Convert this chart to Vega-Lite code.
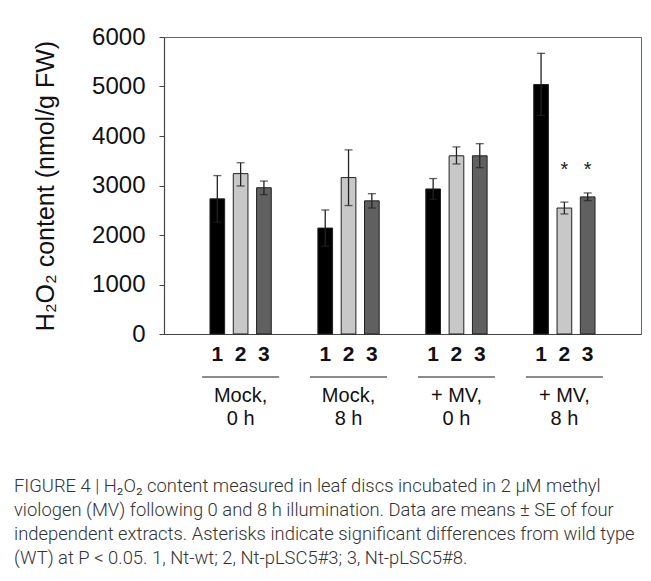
{
  "$schema": "https://vega.github.io/schema/vega-lite/v6.json",
  "width": 477,
  "height": 297,
  "autosize": {"type": "none"},
  "padding": {"left": 164, "top": 37, "right": 10, "bottom": 247},
  "background": "white",
  "config": {
    "font": "Liberation Sans",
    "view": {"stroke": "#666", "strokeWidth": 1}
  },
  "title": {
    "text": [
      "FIGURE 4 | H₂O₂ content measured in leaf discs incubated in 2 µM methyl",
      "viologen (MV) following 0 and 8 h illumination. Data are means ± SE of four",
      "independent extracts. Asterisks indicate significant differences from wild type",
      "(WT) at P < 0.05. 1, Nt-wt; 2, Nt-pLSC5#3; 3, Nt-pLSC5#8."
    ],
    "orient": "bottom",
    "anchor": "start",
    "frame": "group",
    "dx": -150,
    "offset": 48,
    "font": "Roboto",
    "fontSize": 18.4,
    "fontWeight": 300,
    "color": "#333",
    "lineHeight": 24
  },
  "data": {
    "values": [
      {"group": "Mock,|0 h", "geno": "1", "value": 2730, "lo": 2260, "hi": 3200, "sig": ""},
      {"group": "Mock,|0 h", "geno": "2", "value": 3240, "lo": 2990, "hi": 3460, "sig": ""},
      {"group": "Mock,|0 h", "geno": "3", "value": 2955, "lo": 2815, "hi": 3090, "sig": ""},
      {"group": "Mock,|8 h", "geno": "1", "value": 2140, "lo": 1775, "hi": 2505, "sig": ""},
      {"group": "Mock,|8 h", "geno": "2", "value": 3160, "lo": 2595, "hi": 3720, "sig": ""},
      {"group": "Mock,|8 h", "geno": "3", "value": 2690, "lo": 2545, "hi": 2835, "sig": ""},
      {"group": "+ MV,|0 h", "geno": "1", "value": 2930, "lo": 2720, "hi": 3140, "sig": ""},
      {"group": "+ MV,|0 h", "geno": "2", "value": 3600, "lo": 3435, "hi": 3780, "sig": ""},
      {"group": "+ MV,|0 h", "geno": "3", "value": 3600, "lo": 3360, "hi": 3845, "sig": ""},
      {"group": "+ MV,|8 h", "geno": "1", "value": 5040, "lo": 4415, "hi": 5670, "sig": ""},
      {"group": "+ MV,|8 h", "geno": "2", "value": 2545, "lo": 2425, "hi": 2665, "sig": "*"},
      {"group": "+ MV,|8 h", "geno": "3", "value": 2770, "lo": 2695, "hi": 2850, "sig": "*"}
    ]
  },
  "encoding": {
    "x": {
      "field": "group",
      "type": "nominal",
      "sort": ["Mock,|0 h", "Mock,|8 h", "+ MV,|0 h", "+ MV,|8 h"],
      "scale": {"paddingInner": 0, "paddingOuter": 0.21},
      "axis": {
        "title": null,
        "labelExpr": "split(datum.value, '|')",
        "labelAngle": 0,
        "labelFontSize": 20,
        "labelPadding": 51,
        "labelBaseline": "top",
        "labelLineHeight": 23.5,
        "labelColor": "#111",
        "ticks": false,
        "domainColor": "#444",
        "domainWidth": 1.2
      }
    }
  },
  "layer": [
    {
      "mark": {"type": "bar", "stroke": "#222", "strokeWidth": 1},
      "encoding": {
        "xOffset": {"field": "geno", "type": "nominal", "scale": {"paddingInner": 0.37, "paddingOuter": 1.2}},
        "y": {
          "field": "value",
          "type": "quantitative",
          "scale": {"domain": [0, 6000], "nice": false},
          "axis": {
            "title": "H₂O₂ content (nmol/g FW)",
            "values": [0, 1000, 2000, 3000, 4000, 5000, 6000],
            "format": "d",
            "grid": false,
            "labelFontSize": 24,
            "labelPadding": 14,
            "labelColor": "#111",
            "tickSize": 5,
            "tickColor": "#444",
            "domainColor": "#444",
            "domainWidth": 1.2,
            "titleFontSize": 25,
            "titleFontWeight": "normal",
            "titleColor": "#111",
            "titlePadding": 33
          }
        },
        "color": {
          "field": "geno",
          "type": "nominal",
          "scale": {"domain": ["1", "2", "3"], "range": ["#000000", "#c8c8c8", "#606060"]},
          "legend": null
        }
      }
    },
    {
      "mark": {"type": "rule", "color": "#222", "strokeWidth": 1.3},
      "encoding": {
        "xOffset": {"field": "geno", "type": "nominal"},
        "y": {"field": "lo", "type": "quantitative"},
        "y2": {"field": "hi"}
      }
    },
    {
      "mark": {"type": "tick", "color": "#222", "size": 8, "thickness": 1.3},
      "encoding": {
        "xOffset": {"field": "geno", "type": "nominal"},
        "y": {"field": "hi", "type": "quantitative"}
      }
    },
    {
      "mark": {"type": "tick", "color": "#222", "size": 8, "thickness": 1.3},
      "encoding": {
        "xOffset": {"field": "geno", "type": "nominal"},
        "y": {"field": "lo", "type": "quantitative"}
      }
    },
    {
      "mark": {"type": "text", "fontSize": 21, "fontWeight": "bold", "color": "#111", "baseline": "middle", "yOffset": 21},
      "encoding": {
        "xOffset": {"field": "geno", "type": "nominal"},
        "y": {"datum": 0},
        "text": {"field": "geno"}
      }
    },
    {
      "transform": [{"filter": "datum.geno == '2'"}],
      "mark": {"type": "tick", "orient": "horizontal", "color": "#222", "size": 77, "thickness": 1.6, "yOffset": 43},
      "encoding": {
        "y": {"datum": 0}
      }
    },
    {
      "transform": [{"filter": "datum.sig == '*'"}],
      "mark": {"type": "text", "fontSize": 20, "color": "#222", "baseline": "middle", "yOffset": 4},
      "encoding": {
        "xOffset": {"field": "geno", "type": "nominal"},
        "y": {"datum": 3385},
        "text": {"field": "sig"}
      }
    }
  ]
}
